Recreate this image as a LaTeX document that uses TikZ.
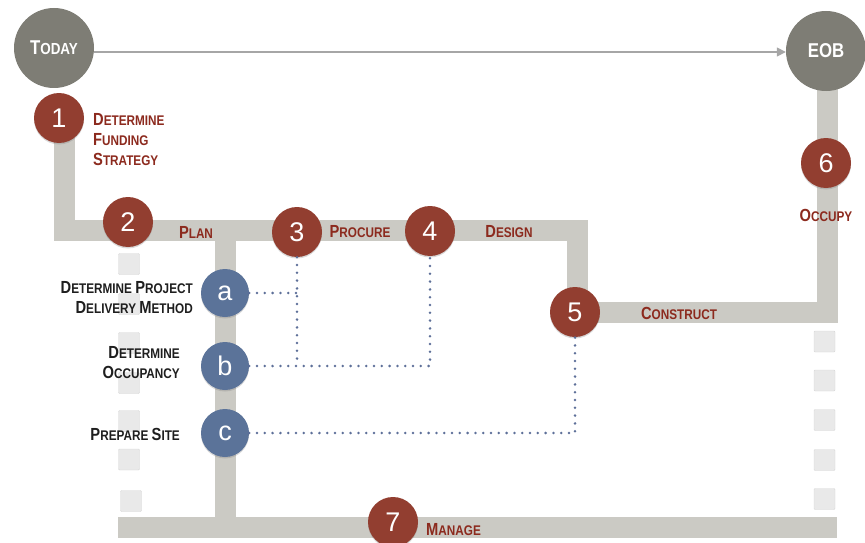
\documentclass[tikz,border=0pt]{standalone}
\usepackage{fontspec}
\setmainfont{Liberation Sans}
\newfontfamily\condfont[FakeStretch=0.84]{Liberation Sans}
\usepackage{xcolor}
\usetikzlibrary{arrows.meta,shadows}
\definecolor{trackgray}{HTML}{CBCAC4}
\definecolor{stepred}{HTML}{923E30}
\definecolor{labelred}{HTML}{8C2A1E}
\definecolor{subblue}{HTML}{5B7399}
\definecolor{dotblue}{HTML}{5E7099}
\definecolor{endgray}{HTML}{7E7D75}
\definecolor{slotgray}{HTML}{E9E9E9}
\definecolor{labeltext}{HTML}{1E1E1E}
\newcommand{\firstcap}[2]{{\fontsize{17.5pt}{20pt}\selectfont #1}#2}

\begin{document}
\begin{tikzpicture}[x=1pt, y=-1pt,
    track/.style={draw=trackgray, line width=21pt, line join=miter},
    stepnode/.style={circle, fill=stepred, minimum size=50pt, inner sep=0pt,
        text=white, font=\fontsize{27pt}{27pt}\selectfont,
        drop shadow={shadow xshift=0pt, shadow yshift=-1.5pt, opacity=0.3}},
    subnode/.style={stepnode, fill=subblue, minimum size=48pt},
    endnode/.style={circle, fill=endgray, minimum size=80pt, inner sep=0pt,
        text=white, font=\condfont\bfseries\fontsize{20pt}{20pt}\selectfont},
    steplabel/.style={text=labelred, inner sep=0pt,
        font=\condfont\bfseries\fontsize{14pt}{20pt}\selectfont},
    sublabel/.style={steplabel, text=labeltext, align=right, anchor=east},
    slot/.style={fill=slotgray, draw=slotgray!92!black, line width=0.4pt,
        minimum size=21pt, inner sep=0pt, rounded corners=1pt},
    dotline/.style={draw=dotblue, line width=2.8pt, line cap=round,
        dash pattern=on 0pt off 7.8pt},
    timeline/.style={draw=black!35, line width=1.6pt, -{Triangle[length=9pt,width=9pt]}}]
    \useasboundingbox (0,0) rectangle (865,543);

    % ----------------------------------------------------
    % placeholder slots
    % ----------------------------------------------------
    \foreach \y [count=\i] in {264,304,343,383,421,459.5}
        \node[slot] (lslot\i) at (129,\y) {};
    \node[slot] (lslot7) at (131,501) {};
    \foreach \y [count=\i] in {341.5,380.5,420,460,499}
        \node[slot] (rslot\i) at (824.5,\y) {};

    % ----------------------------------------------------
    % tracks
    % ----------------------------------------------------
    \draw[track] (64.5,119) -- (64.5,230) -- (577,230) -- (577,312.5)
        -- (827,312.5) -- (827,51);
    \draw[track] (225.5,230) -- (225.5,527.5);
    \draw[track] (118,527.5) -- (837,527.5);

    % ----------------------------------------------------
    % today and end of schedule
    % ----------------------------------------------------
    \node[endnode] (today) at (54,48) {T{\fontsize{16pt}{16pt}\selectfont ODAY}};
    \node[endnode] (eob) at (826,51) {EOB};
    \draw[timeline] (today.east |- 0,52) -- (eob.west |- 0,52);

    % ----------------------------------------------------
    % main steps
    % ----------------------------------------------------
    \node[stepnode] (s1) at (59,118) {1};
    \node[stepnode] (s2) at (128,222) {2};
    \node[stepnode] (s3) at (297,232) {3};
    \node[stepnode] (s4) at (430,231) {4};
    \node[stepnode] (s5) at (575,312) {5};
    \node[stepnode] (s6) at (826,163) {6};
    \node[stepnode] (s7) at (393,522) {7};

    % ----------------------------------------------------
    % planning sub-steps
    % ----------------------------------------------------
    \node[subnode] (sa) at (225,293) {a};
    \node[subnode] (sb) at (225,366) {b};
    \node[subnode] (sc) at (225,433) {c};

    \draw[dotline] (sa) -- (sa -| s3);
    \draw[dotline] (s3) -- (s3 |- sb);
    \draw[dotline] (sb) -- (sb -| s4) -- (s4);
    \draw[dotline] (sc) -- (sc -| s5) -- (s5);

    % ----------------------------------------------------
    % labels
    % ----------------------------------------------------
    \node[steplabel, anchor=north west, align=left] (l1) at (93,113)
        {\firstcap{D}{ETERMINE}\\\firstcap{F}{UNDING}\\\firstcap{S}{TRATEGY}};
    \node[steplabel] (l2) at (196,232) {\firstcap{P}{LAN}};
    \node[steplabel] (l3) at (360,232) {\firstcap{P}{ROCURE}};
    \node[steplabel] (l4) at (509,232) {\firstcap{D}{ESIGN}};
    \node[steplabel] (l5) at (679,313) {\firstcap{C}{ONSTRUCT}};
    \node[steplabel] (l6) at (826,215) {\firstcap{O}{CCUPY}};
    \node[steplabel, anchor=west] (l7) at (426,530) {\firstcap{M}{ANAGE}};

    \node[sublabel] (la) at (193,298)
        {\firstcap{D}{ETERMINE} \firstcap{P}{ROJECT}\\\firstcap{D}{ELIVERY} \firstcap{M}{ETHOD}};
    \node[sublabel] (lb) at (180,363) {\firstcap{D}{ETERMINE}\\\firstcap{O}{CCUPANCY}};
    \node[sublabel] (lc) at (180,434) {\firstcap{P}{REPARE} \firstcap{S}{ITE}};
\end{tikzpicture}
\end{document}
